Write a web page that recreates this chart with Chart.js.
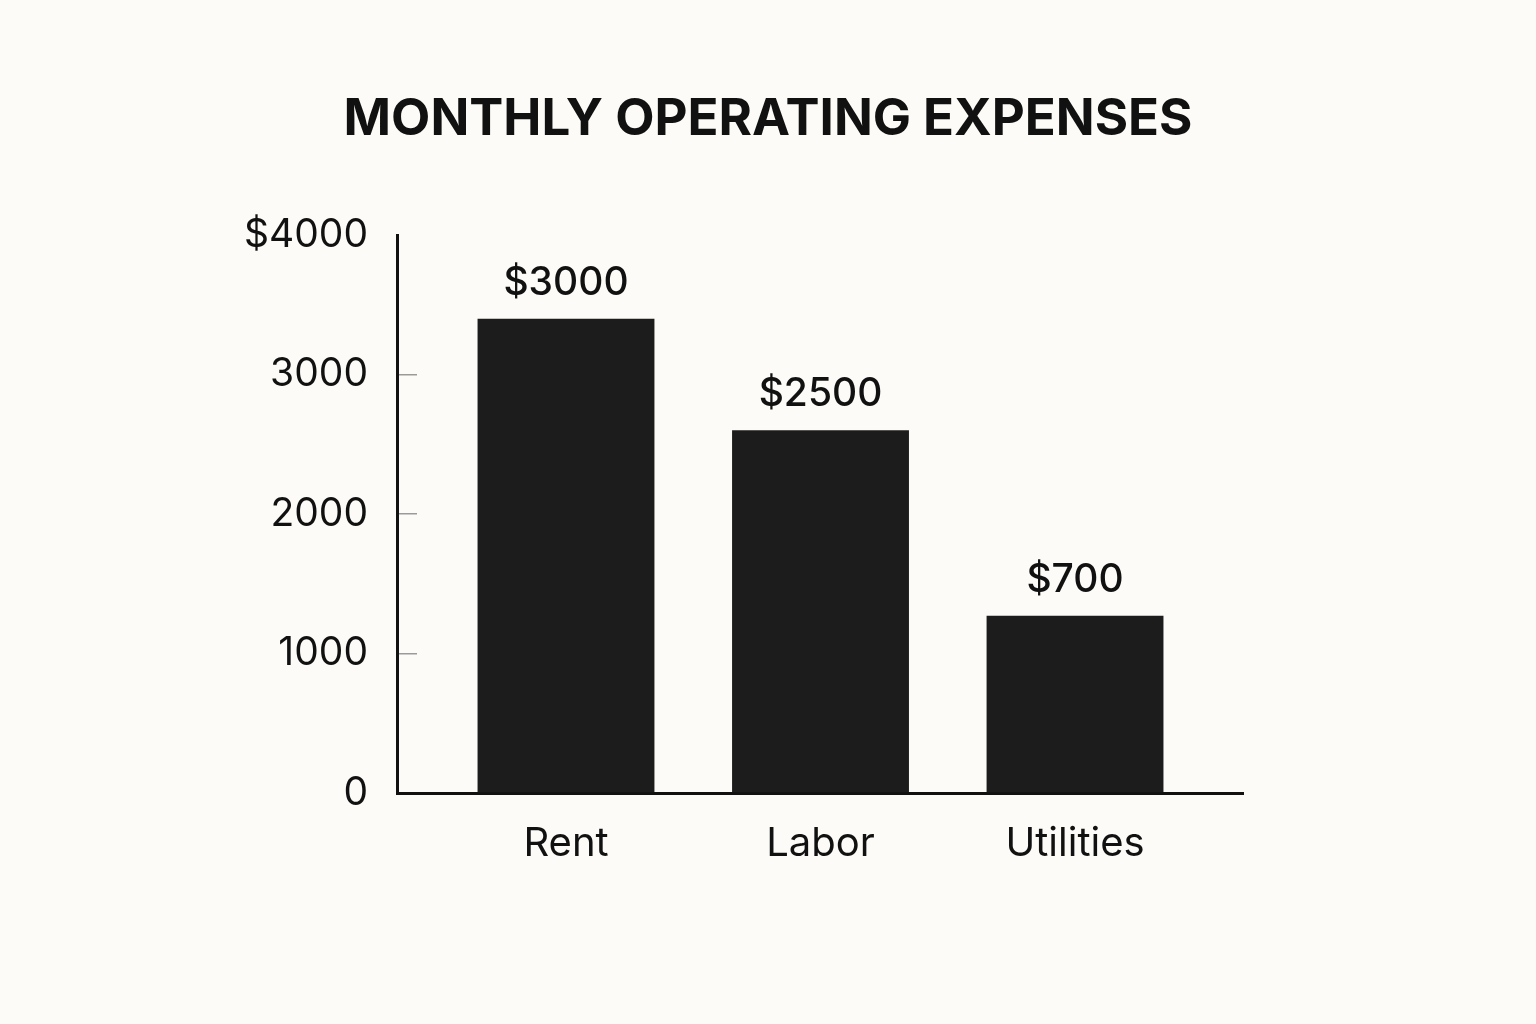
<!DOCTYPE html>
<html>
<head>
<meta charset="utf-8">
<script src="https://cdn.jsdelivr.net/npm/chart.js@4"></script>
<style>
  html, body { margin: 0; padding: 0; background: #fcfbf7; }
  #wrap { width: 1536px; height: 1024px; }
</style>
</head>
<body>
<div id="wrap"><canvas id="chart"></canvas></div>
<script>
// chart data
const categories = ["Rent", "Labor", "Utilities"]
const barHeights = [3400, 2600, 1270]
const valueLabels = ["$3000", "$2500", "$700"]
const yTicks = [0, 1000, 2000, 3000, 4000]
const chartTitle = "MONTHLY OPERATING EXPENSES"

const ink = "#111111"
const barColor = "#1c1c1c"
const fontFamily = "Inter, 'DejaVu Sans', sans-serif"

const bg = {
	id: "bg",
	beforeDraw(chart) {
		const c = chart.ctx
		c.save()
		c.fillStyle = "#fcfbf7"
		c.fillRect(0, 0, chart.width, chart.height)
		c.restore()
	}
}

// title centred on the whole canvas, not the plot
const pageTitle = {
	id: "pageTitle",
	afterDraw(chart) {
		const c = chart.ctx
		c.save()
		c.font = `bold 51px ${fontFamily}`
		c.fillStyle = ink
		c.textAlign = "center"
		c.textBaseline = "alphabetic"
		c.fillText(chartTitle, chart.width / 2, 135)
		c.restore()
	}
}

// text over each bar
const barLabels = {
	id: "barLabels",
	afterDatasetsDraw(chart) {
		const c = chart.ctx
		const meta = chart.getDatasetMeta(0)
		c.save()
		c.font = `500 39px ${fontFamily}`
		c.fillStyle = ink
		c.textAlign = "center"
		c.textBaseline = "alphabetic"
		meta.data.forEach((bar, i) => {
			c.fillText(valueLabels[i], bar.x, bar.y - 24)
		})
		c.restore()
	}
}

const ctx = document.getElementById("chart").getContext("2d")

new Chart(ctx, {
	type: "bar",
	data: {
		datasets: [{
			data: categories.map((c, i) => ({ x: i, y: barHeights[i] })),
			backgroundColor: barColor,
			borderWidth: 0,
			barPercentage: 0.695,
			categoryPercentage: 1,
		}],
	},
	options: {
		responsive: true,
		maintainAspectRatio: false,
		animation: false,
		devicePixelRatio: 1,
		layout: {
			padding: { left: 0, right: 293, top: 235, bottom: 0 }
		},
		plugins: {
			legend: { display: false },
			tooltip: { enabled: false },
			title: { display: false },
		},
		scales: {
			x: {
				type: "linear",
				offset: false,
				min: -0.664,
				max: 2.66,
				border: { display: true, color: ink, width: 3 },
				grid: { display: false, drawTicks: false },
				ticks: {
					stepSize: 1,
					includeBounds: false,
					padding: 27,
					color: ink,
					font: { family: fontFamily, size: 40 },
					callback: v => categories[v] ?? "",
				},
				afterFit(s) { s.height = 231 },
			},
			y: {
				min: 0,
				max: 4000,
				border: { display: true, color: ink, width: 3 },
				grid: {
					drawOnChartArea: false,
					drawTicks: true,
					tickLength: -20,
					lineWidth: 1.5,
					color: c => (c.tick && c.tick.value > 0 && c.tick.value < 4000) ? "#9a9a9a" : "rgba(0,0,0,0)",
				},
				afterBuildTicks(s) { s.ticks = yTicks.map(v => ({ value: v })) },
				ticks: {
					padding: 49,
					color: ink,
					font: { family: fontFamily, size: 39 },
					callback: v => v === 4000 ? "$" + v : String(v),
				},
				afterFit(s) { s.width = 397 },
			},
		},
	},
	plugins: [bg, barLabels, pageTitle],
})
</script>
</body>
</html>
